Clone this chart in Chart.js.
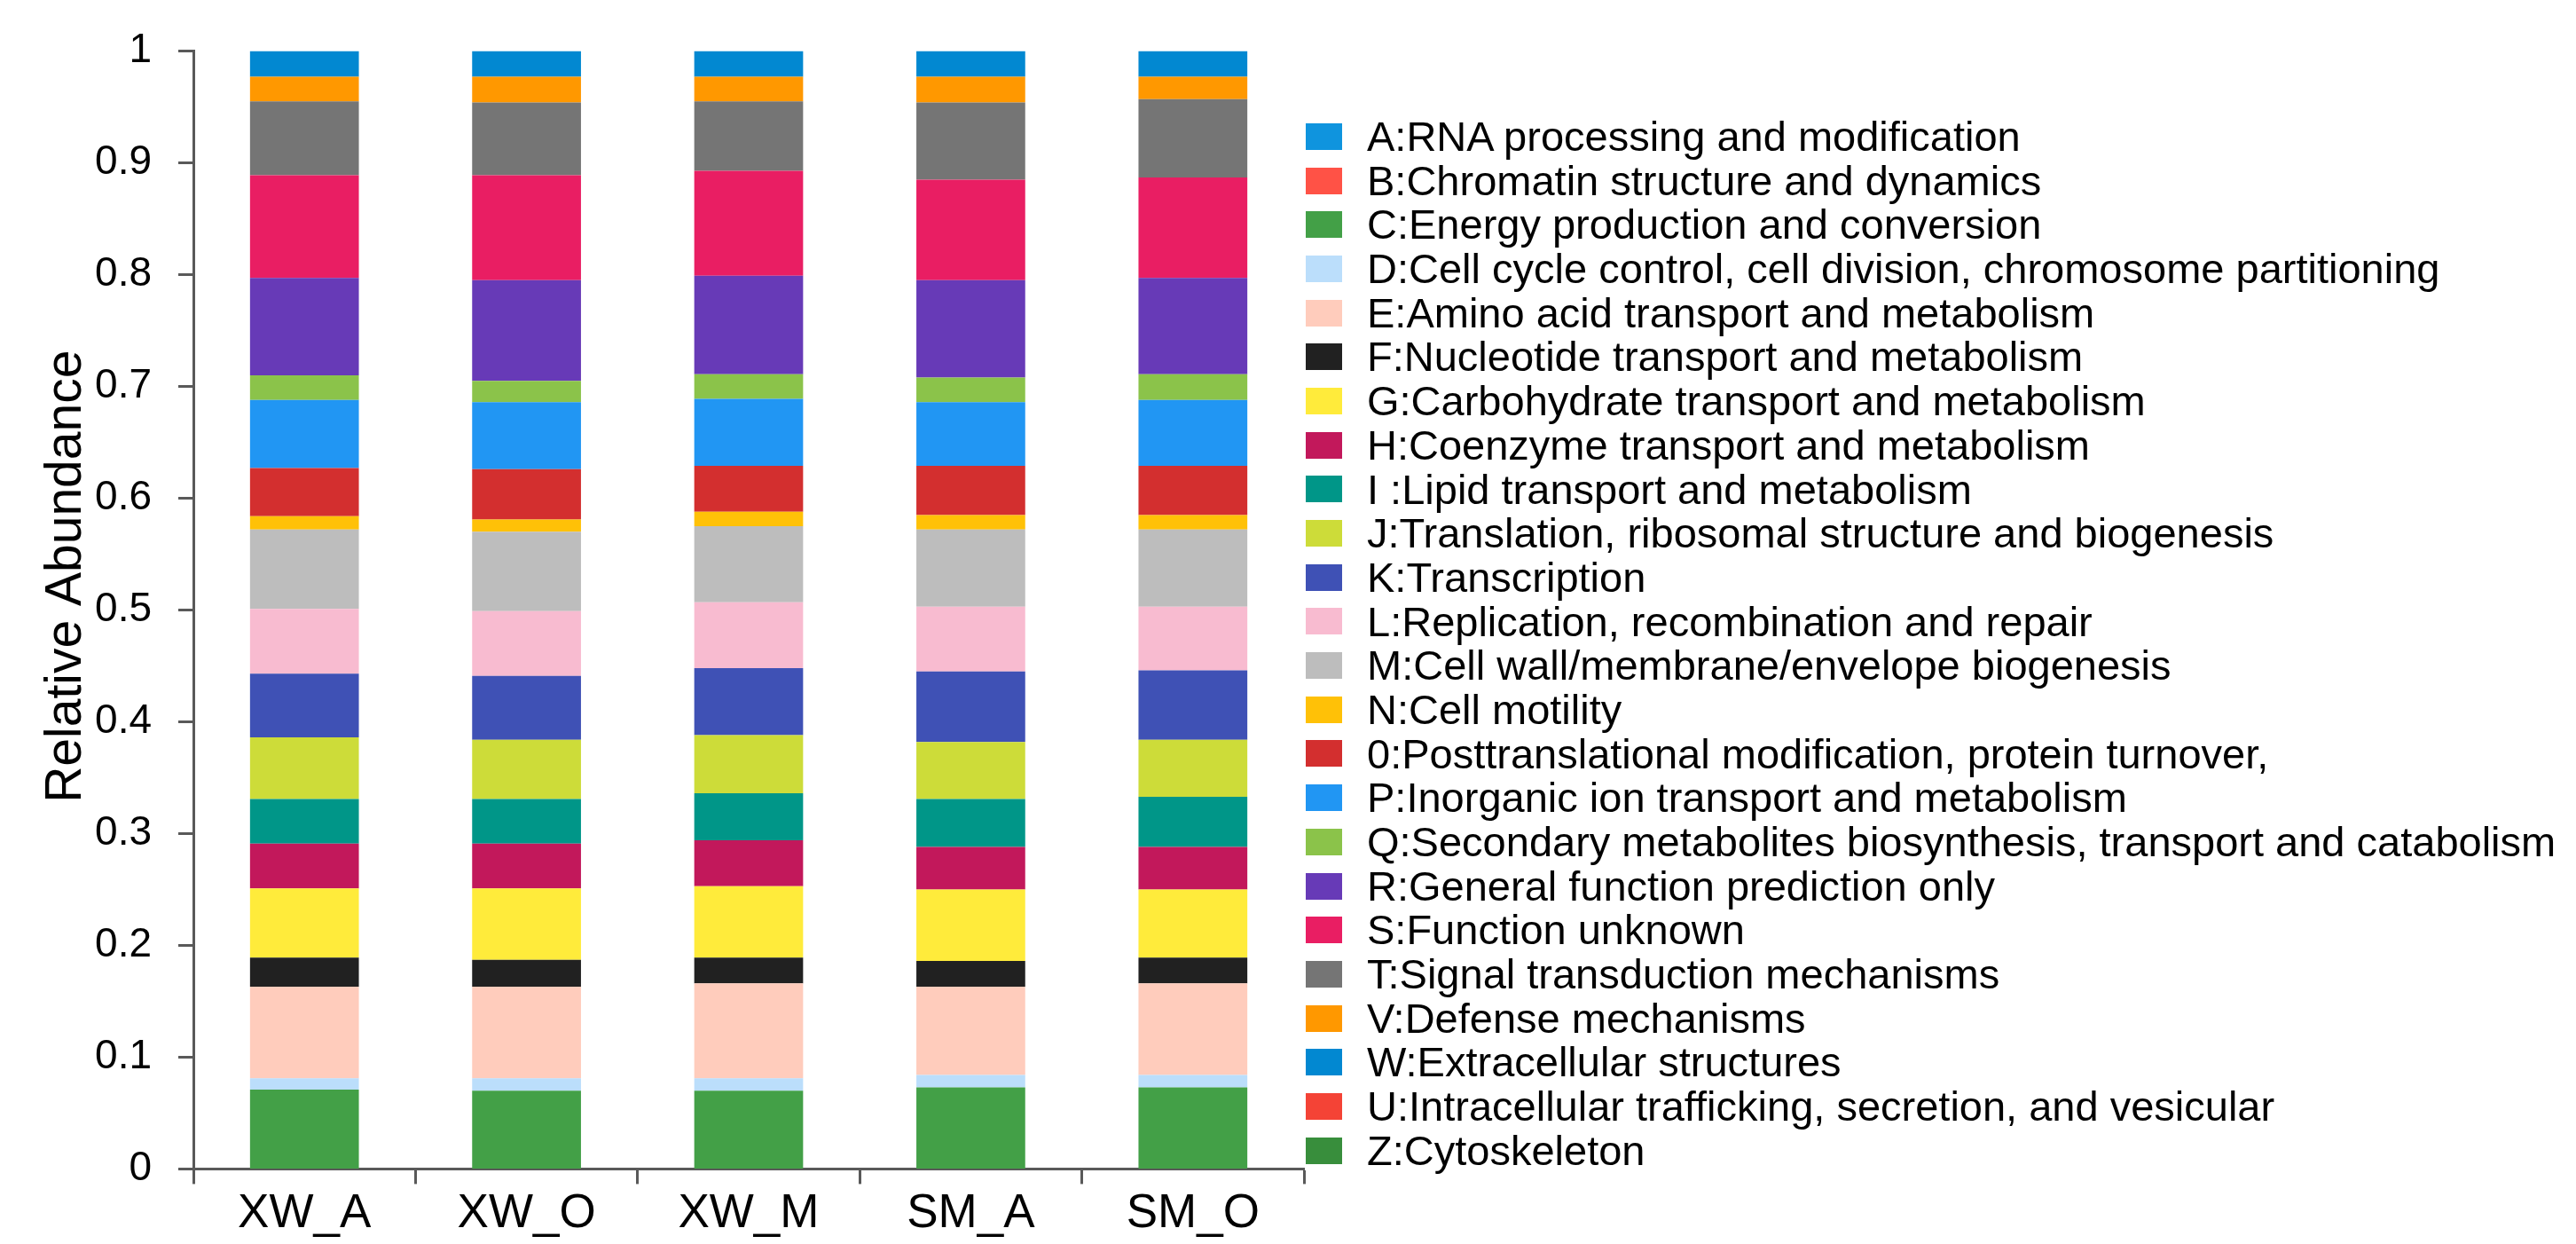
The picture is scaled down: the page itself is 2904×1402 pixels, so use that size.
<!DOCTYPE html>
<html>
<head>
<meta charset="utf-8">
<script src="https://cdn.jsdelivr.net/npm/chart.js@4.4.1/dist/chart.umd.min.js"></script>
<style>
  html, body { margin: 0; padding: 0; background: #fff; }
  #wrap { position: relative; width: 2904px; height: 1402px; }
  #legend { position: absolute; left: 1472px; top: 129px; margin: 0; padding: 0; list-style: none;
            font-family: "Liberation Sans", Arial, sans-serif; font-size: 47px; color: #000; }
  #legend li { display: flex; align-items: center; height: 49.7px; line-height: 49.7px; white-space: nowrap; }
  #legend span.box { display: inline-block; width: 41px; height: 30px; margin-right: 28px; }
</style>
</head>
<body>
<div id="wrap">
  <canvas id="chart" width="2904" height="1402"></canvas>
  <ul id="legend"></ul>
</div>
<script>
// samples on the x axis
const samples = ['XW_A', 'XW_O', 'XW_M', 'SM_A', 'SM_O'];

// COG classes, same order as the legend (first one is stacked at the bottom)
const cogLabels = [
    'A:RNA processing and modification',
    'B:Chromatin structure and dynamics',
    'C:Energy production and conversion',
    'D:Cell cycle control, cell division, chromosome partitioning',
    'E:Amino acid transport and metabolism',
    'F:Nucleotide transport and metabolism',
    'G:Carbohydrate transport and metabolism',
    'H:Coenzyme transport and metabolism',
    'I :Lipid transport and metabolism',
    'J:Translation, ribosomal structure and biogenesis',
    'K:Transcription',
    'L:Replication, recombination and repair',
    'M:Cell wall/membrane/envelope biogenesis',
    'N:Cell motility',
    '0:Posttranslational modification, protein turnover,',
    'P:Inorganic ion transport and metabolism',
    'Q:Secondary metabolites biosynthesis, transport and catabolism',
    'R:General function prediction only',
    'S:Function unknown',
    'T:Signal transduction mechanisms',
    'V:Defense mechanisms',
    'W:Extracellular structures',
    'U:Intracellular trafficking, secretion, and vesicular',
    'Z:Cytoskeleton'
];

// relative abundance per sample (XW_A, XW_O, XW_M, SM_A, SM_O)
const valA = [0, 0, 0, 0, 0];
const valB = [0, 0, 0, 0, 0];
const valC = [0.071, 0.070, 0.070, 0.073, 0.073];
const valD = [0.010, 0.011, 0.011, 0.011, 0.011];
const valE = [0.082, 0.082, 0.085, 0.079, 0.082];
const valF = [0.026, 0.024, 0.023, 0.023, 0.023];
const valG = [0.062, 0.064, 0.064, 0.064, 0.061];
const valH = [0.040, 0.040, 0.041, 0.038, 0.038];
const valI = [0.040, 0.040, 0.042, 0.043, 0.045];
const valJ = [0.055, 0.053, 0.052, 0.051, 0.051];
const valK = [0.057, 0.057, 0.060, 0.063, 0.062];
const valL = [0.058, 0.058, 0.059, 0.058, 0.057];
const valM = [0.071, 0.071, 0.068, 0.069, 0.069];
const valN = [0.012, 0.011, 0.013, 0.013, 0.013];
const valO = [0.043, 0.045, 0.041, 0.044, 0.044];
const valP = [0.061, 0.060, 0.060, 0.057, 0.059];
const valQ = [0.022, 0.019, 0.022, 0.022, 0.023];
const valR = [0.087, 0.090, 0.088, 0.087, 0.086];
const valS = [0.092, 0.094, 0.094, 0.090, 0.090];
const valT = [0.066, 0.065, 0.062, 0.069, 0.070];
const valV = [0.022, 0.023, 0.022, 0.023, 0.020];
const valW = [0.023, 0.023, 0.023, 0.023, 0.023];
const valU = [0, 0, 0, 0, 0];
const valZ = [0, 0, 0, 0, 0];

const cogValues = [valA, valB, valC, valD, valE, valF, valG, valH, valI, valJ, valK, valL,
                   valM, valN, valO, valP, valQ, valR, valS, valT, valV, valW, valU, valZ];

// y tick labels 0 .. 1
const yTickLabels = ['0', '0.1', '0.2', '0.3', '0.4', '0.5', '0.6', '0.7', '0.8', '0.9', '1'];
const yTitle = 'Relative Abundance';

const cogColors = [
    '#0F94DE', '#FF5246', '#43A047', '#BBDEFB', '#FFCCBC', '#212121',
    '#FFEB3B', '#C2185B', '#009688', '#CDDC39', '#3F51B5', '#F8BBD0',
    '#BDBDBD', '#FFC107', '#D32F2F', '#2196F3', '#8BC34A', '#673AB7',
    '#E91E63', '#757575', '#FF9800', '#0288D1', '#F44336', '#388E3C'
];

const FONT = '"Liberation Sans", Arial, sans-serif';
const AXIS = '#595959';

// y axis title, drawn by hand so it can sit a little above the middle like the original
const yTitlePlugin = {
    id: 'yTitle',
    afterDraw(chart) {
        const c = chart.ctx;
        const y = chart.scales.y.getPixelForValue(0.53);
        c.save();
        c.translate(75, y);
        c.rotate(-Math.PI / 2);
        c.font = '57px ' + FONT;
        c.fillStyle = '#000';
        c.textAlign = 'center';
        c.textBaseline = 'middle';
        c.fillText(yTitle, 0, 0);
        c.restore();
    }
};

// html legend (the canvas legend is capped at a quarter of the width)
const htmlLegendPlugin = {
    id: 'htmlLegend',
    afterUpdate(chart) {
        const ul = document.querySelector('#legend');
        ul.innerHTML = '';
        const items = Chart.defaults.plugins.legend.labels.generateLabels(chart);
        items.forEach(item => {
            const li = document.createElement('li');
            const box = document.createElement('span');
            box.className = 'box';
            box.style.background = item.fillStyle;
            const txt = document.createElement('span');
            txt.textContent = item.text;
            li.appendChild(box);
            li.appendChild(txt);
            ul.appendChild(li);
        });
    }
};

const ctx = document.querySelector('#chart').getContext('2d');
new Chart(ctx, {
    type: 'bar',
    data: {
        labels: samples,
        datasets: cogLabels.map((label, i) => ({
            label: label,
            data: cogValues[i],
            backgroundColor: cogColors[i],
            borderWidth: 0,
            categoryPercentage: 1,
            barPercentage: 0.49
        }))
    },
    options: {
        responsive: false,
        animation: false,
        devicePixelRatio: 1,
        layout: { padding: { top: 49, right: 1434, bottom: 0, left: 0 } },
        plugins: {
            tooltip: { enabled: false },
            legend: { display: false }
        },
        scales: {
            x: {
                stacked: true,
                border: { display: true, color: AXIS, width: 3 },
                grid: { offset: true, drawOnChartArea: false, drawTicks: true, tickLength: 17, tickColor: AXIS, tickWidth: 3 },
                ticks: { color: '#000', padding: 2, font: { family: FONT, size: 53 } }
            },
            y: {
                stacked: true,
                min: 0,
                max: 1,
                afterFit(scale) { scale.width = 218; },
                border: { display: true, color: AXIS, width: 3 },
                grid: { drawOnChartArea: false, drawTicks: true, tickLength: 17, tickColor: AXIS, tickWidth: 3 },
                ticks: {
                    stepSize: 0.1,
                    padding: 30,
                    color: '#000',
                    font: { family: FONT, size: 46 },
                    callback: (value, index) => yTickLabels[index]
                }
            }
        }
    },
    plugins: [yTitlePlugin, htmlLegendPlugin]
});
</script>
</body>
</html>
